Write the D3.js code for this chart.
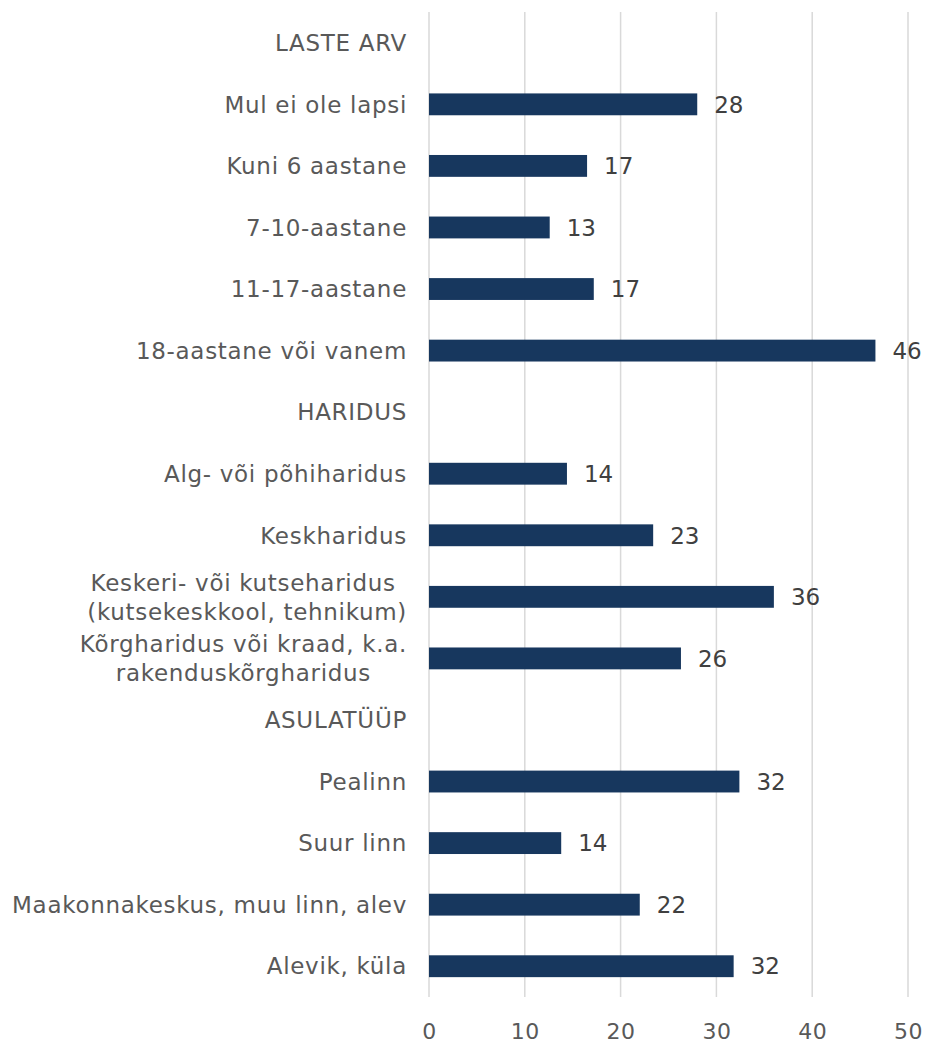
<!DOCTYPE html>
<html>
<head>
<meta charset="utf-8">
<script src="https://cdn.jsdelivr.net/npm/d3@7"></script>
<style>
  body { margin: 0; background: #fff; }
  text { font-family: Verdana, "DejaVu Sans", sans-serif; }
</style>
</head>
<body>
<svg width="928" height="1046"></svg>
<script>
// rows top to bottom, headers have no value
var categories = ["LASTE ARV", "Mul ei ole lapsi", "Kuni 6 aastane", "7-10-aastane", "11-17-aastane",
  "18-aastane või vanem", "HARIDUS", "Alg- või põhiharidus", "Keskharidus",
  "Keskeri- või kutseharidus \n(kutsekeskkool, tehnikum)",
  "Kõrgharidus või kraad, k.a.\nrakenduskõrgharidus",
  "ASULATÜÜP", "Pealinn", "Suur linn", "Maakonnakeskus, muu linn, alev", "Alevik, küla"]
var values = [null, 28.0, 16.5, 12.6, 17.2, 46.6, null, 14.4, 23.4, 36.0, 26.3, null, 32.4, 13.8, 22.0, 31.8]
var labels = [null, 28, 17, 13, 17, 46, null, 14, 23, 36, 26, null, 32, 14, 22, 32]
var xTicks = [0, 10, 20, 30, 40, 50]

var svg = d3.select("svg")
var xScale = d3.scaleLinear().domain([0, 50]).range([429, 908])
var yScale = d3.scaleBand().domain(d3.range(categories.length)).range([12, 997])
  .paddingInner(0.645).paddingOuter(0.3225)

// grid
svg.append("g").selectAll("line")
  .data(xTicks)
  .enter()
  .append("line")
  .attr("x1", d => xScale(d)).attr("x2", d => xScale(d))
  .attr("y1", 12).attr("y2", 997)
  .attr("stroke", "#d9d9d9")
  .attr("stroke-width", 1.5)

// x axis labels
var xAxis = d3.axisBottom(xScale).tickValues(xTicks).tickSize(0).tickPadding(0)
var xg = svg.append("g").attr("transform", "translate(0,1020)").call(xAxis)
xg.select(".domain").remove()
xg.selectAll("text").attr("font-size", 22).attr("fill", "#595959").attr("font-family", null)
  .attr("dy", "0.85em").attr("letter-spacing", 0.5)

var rows = categories.map((c, i) => ({cat: c, v: values[i], lab: labels[i], i: i}))

// bars
svg.append("g").selectAll("rect")
  .data(rows.filter(d => d.v != null))
  .enter()
  .append("rect")
  .attr("x", xScale(0))
  .attr("y", d => yScale(d.i))
  .attr("width", d => xScale(d.v) - xScale(0))
  .attr("height", yScale.bandwidth())
  .attr("fill", "#17375e")

// value labels
svg.append("g").selectAll("text")
  .data(rows.filter(d => d.v != null))
  .enter()
  .append("text")
  .attr("x", d => xScale(d.v) + 17)
  .attr("y", d => yScale(d.i) + yScale.bandwidth() / 2)
  .attr("dy", "0.36em")
  .attr("font-size", 23)
  .attr("fill", "#404040")
  .text(d => d.lab)

// category labels
var catG = svg.append("g")
rows.forEach(function(d) {
  var lines = d.cat.split("\n")
  var cy = yScale(d.i) + yScale.bandwidth() / 2
  var lh = 29
  var t = catG.append("text")
    .attr("font-size", 23)
    .attr("fill", "#595959")
    .attr("letter-spacing", 0.7)
    .attr("xml:space", "preserve")
  var spans = lines.map((ln, k) => t.append("tspan")
    .attr("y", cy + (k - (lines.length - 1) / 2) * lh)
    .attr("dy", "0.36em")
    .text(ln))
  if (lines.length == 1) {
    t.attr("text-anchor", "end")
    spans[0].attr("x", 407)
  } else {
    var w = d3.max(spans, s => s.node().getComputedTextLength())
    t.attr("text-anchor", "middle")
    spans.forEach(s => s.attr("x", 407 - w / 2))
  }
})
</script>
</body>
</html>
